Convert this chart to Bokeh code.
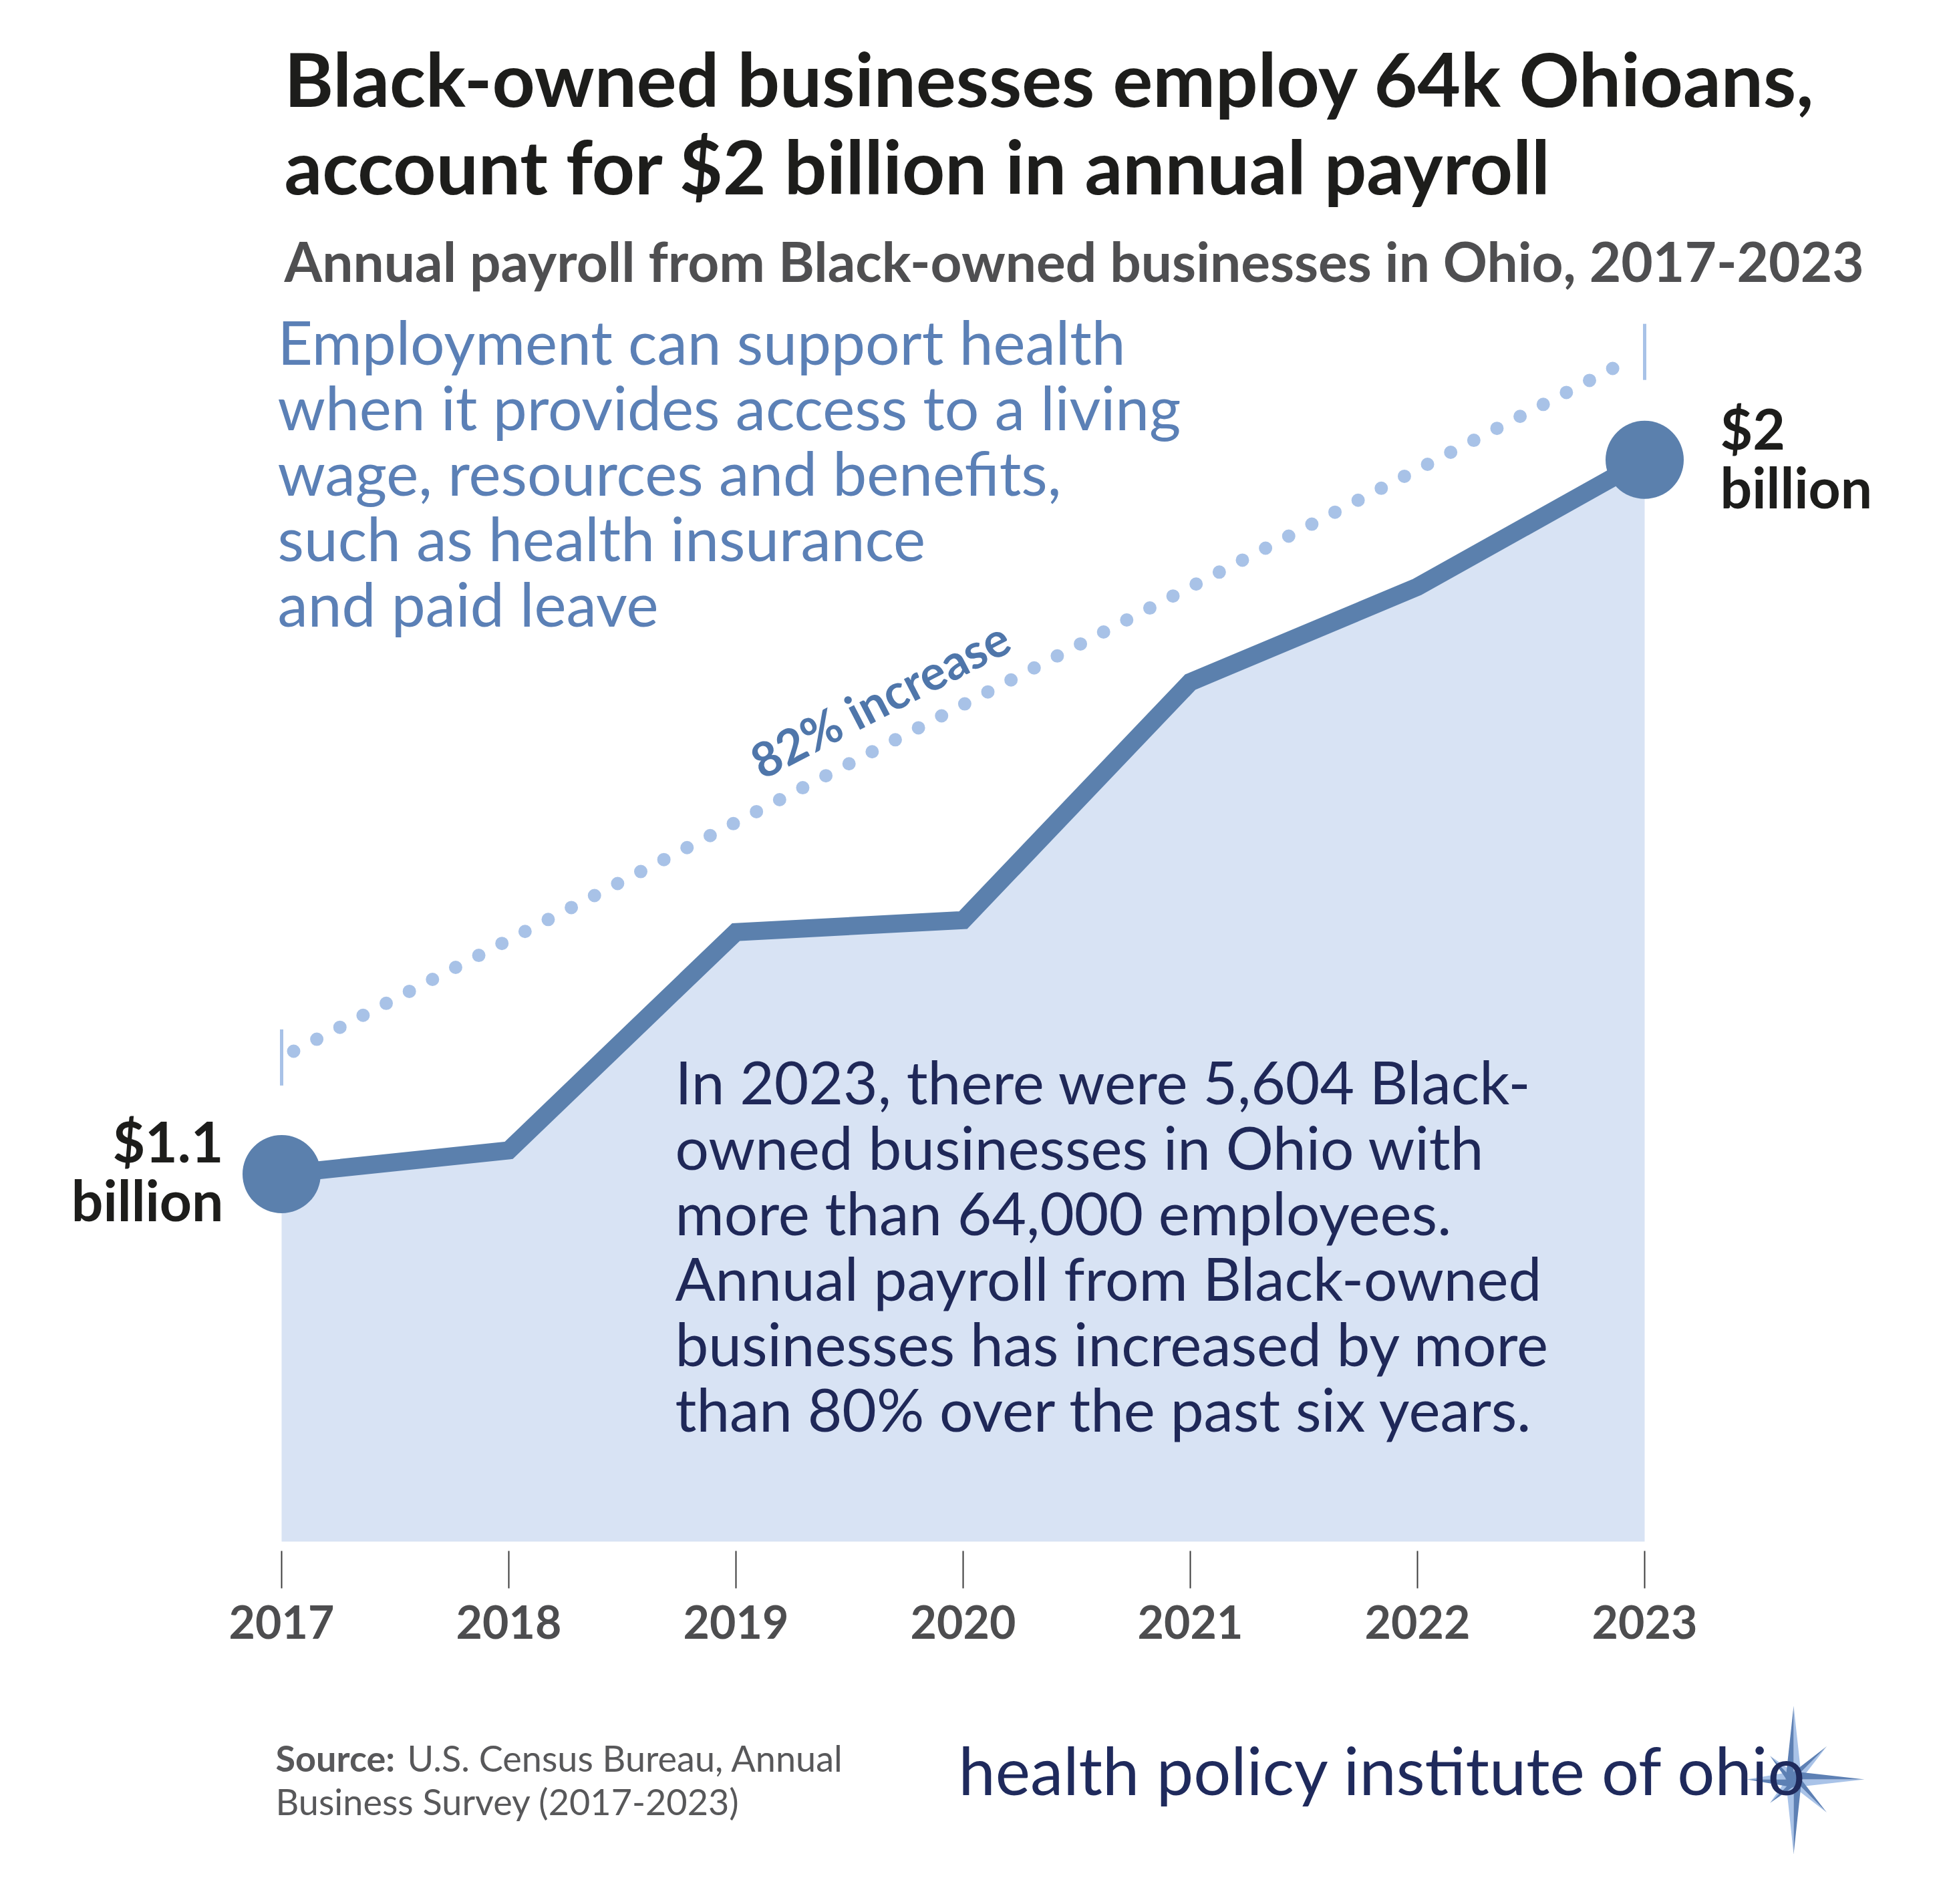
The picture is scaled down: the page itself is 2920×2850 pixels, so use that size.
from bokeh.plotting import figure
from bokeh.models import Range1d, Label, FixedTicker
from bokeh.embed import file_html
from bokeh.resources import INLINE
import math

# Annual payroll from Black-owned businesses in Ohio, $ billions
years = [2017, 2018, 2019, 2020, 2021, 2022, 2023]
payroll_bn = [1.10, 1.13, 1.405, 1.42, 1.72, 1.84, 2.00]
year_labels = ["2017", "2018", "2019", "2020", "2021", "2022", "2023"]

title_lines = ["Black-owned businesses employ 64k Ohioans,",
               "account for $2 billion in annual payroll"]
subtitle = "Annual payroll from Black-owned businesses in Ohio, 2017-2023"
side_note = ["Employment can support health",
             "when it provides access to a living",
             "wage, resources and benefits,",
             "such as health insurance",
             "and paid leave"]
body_note = ["In 2023, there were 5,604 Black-",
             "owned businesses in Ohio with",
             "more than 64,000 employees.",
             "Annual payroll from Black-owned",
             "businesses has increased by more",
             "than 80% over the past six years."]
start_label = ["$1.1", "billion"]
end_label = ["$2", "billion"]
increase_label = "82% increase"
source_head = "Source:"
source_lines = ["U.S. Census Bureau, Annual", "Business Survey (2017-2023)"]
logo_text = "health policy institute of ohio"

# ---- canvas geometry -------------------------------------------------------
W, H = 2920, 2850
PX_YEAR = 340.0      # horizontal pixels per year
PX_BN = 1188.0       # vertical pixels per billion
X_FIRST = 421.0      # pixel column of the first year
Y_FIRST = 1757.0     # pixel row of the first value

x_start = years[0] - X_FIRST / PX_YEAR
x_end = x_start + W / PX_YEAR
y_end = payroll_bn[0] + Y_FIRST / PX_BN
y_start = y_end - H / PX_BN


def X(px):
    return x_start + px / PX_YEAR


def Y(py):
    return y_end - py / PX_BN


FONT = "Lato"
LINE_BLUE = "#5b80ad"
FILL_BLUE = "#d8e3f4"
DOT_BLUE = "#a8c2e7"

p = figure(width=W, height=H, x_range=Range1d(x_start, x_end),
           y_range=Range1d(y_start, y_end), y_axis_location=None,
           output_backend="svg", toolbar_location=None, min_border=0,
           outline_line_color=None, background_fill_color="white",
           border_fill_color="white")
p.grid.visible = False


def text_line(t, px, baseline_px, size, color, bold=False, align="left"):
    """Place one line of text with its baseline on the given pixel row."""
    p.add_layout(Label(x=X(px), y=Y(baseline_px - 0.39 * size), text=t,
                       text_font=FONT, text_font_style="bold" if bold else "normal",
                       text_font_size=f"{size}px", text_color=color,
                       text_align=align, text_baseline="alphabetic"))


# ---- x axis drawn just under the shaded area ------------------------------
floor_bn = Y(2307)           # bottom of the shaded area
xa = p.xaxis[0]
xa.fixed_location = Y(2321)
xa.ticker = FixedTicker(ticks=years)
xa.major_label_overrides = {y: s for y, s in zip(years, year_labels)}
xa.axis_line_color = None
xa.minor_tick_line_color = None
xa.major_tick_in = 0
xa.major_tick_out = 56
xa.major_tick_line_color = "#3c3c3c"
xa.major_tick_line_width = 2
xa.major_label_standoff = 25
xa.major_label_text_font = FONT
xa.major_label_text_font_style = "bold"
xa.major_label_text_font_size = "68px"
xa.major_label_text_color = "#4d4d4f"

# ---- shaded area, line and end markers -------------------------------------
p.varea(x=years, y1=[floor_bn] * len(years), y2=payroll_bn, fill_color=FILL_BLUE)
p.line(x=years, y=payroll_bn, line_width=27, line_color=LINE_BLUE, line_join="miter")
p.scatter(x=[years[0], years[-1]], y=[payroll_bn[0], payroll_bn[-1]],
          size=117, fill_color=LINE_BLUE, line_color=None)

# ---- dotted growth guide with end brackets --------------------------------
g0 = payroll_bn[0] + 0.147
g1 = payroll_bn[-1] + 0.136
slope = (g1 - g0) / (years[-1] - years[0])
gx0 = years[0] + 18 / PX_YEAR
gx1 = years[-1] - 21 / PX_YEAR
p.line(x=[gx0, gx1], y=[g0 + slope * (gx0 - years[0]), g0 + slope * (gx1 - years[0])],
       line_width=20, line_color=DOT_BLUE, line_dash="0 39", line_cap="round")
half = 42 / PX_BN
p.segment(x0=[years[0], years[-1]], y0=[g0 - half, g1 - half],
          x1=[years[0], years[-1]], y1=[g0 + half, g1 + half],
          line_width=5, line_color=DOT_BLUE)

angle = math.atan(slope * PX_BN / PX_YEAR)
p.add_layout(Label(x=X(1316), y=Y(1045), text=increase_label, angle=angle,
                   text_font=FONT, text_font_style="bold", text_font_size="72px",
                   text_color="#4f76aa", text_align="center", text_baseline="middle"))

# ---- value labels at the ends ---------------------------------------------
for i, t in enumerate(start_label):
    text_line(t, 334, 1740 + i * 88, 84, "#1d1d1b", bold=True, align="right")
for i, t in enumerate(end_label):
    text_line(t, 2574, 673 + i * 88, 84, "#1d1d1b", bold=True)

# ---- headline and subtitle -------------------------------------------------
for i, t in enumerate(title_lines):
    text_line(t, 425, 160 + i * 131, 112, "#1d1d1b", bold=True)
text_line(subtitle, 425, 421, 82, "#4f4f51", bold=True)

# ---- annotations -----------------------------------------------------------
for i, t in enumerate(side_note):
    text_line(t, 415, 545 + i * 98, 91, "#5b80b6")
for i, t in enumerate(body_note):
    text_line(t, 1010, 1653 + i * 98, 89, "#1f2858")

# ---- source note -----------------------------------------------------------
text_line(source_head, 412, 2652, 54, "#58585a", bold=True)
text_line(source_lines[0], 609, 2652, 54, "#58585a")
text_line(source_lines[1], 412, 2717, 54, "#58585a")

# ---- logo: compass star behind the wordmark --------------------------------
cx, cy = 2684.0, 2663.0
spikes = [(-90, 110), (90, 112), (0, 106), (180, 70), (-45, 70), (45, 70),
          (-135, 50), (135, 50)]
light_xs, light_ys, dark_xs, dark_ys = [], [], [], []
for deg, length in spikes:
    a = math.radians(deg)
    w = 12 if abs(deg) in (90, 0, 180) else 9
    tx, ty = cx + length * math.cos(a), cy + length * math.sin(a)
    nx, ny = -math.sin(a) * w, math.cos(a) * w
    light_xs.append([X(cx), X(tx), X(cx + nx)])
    light_ys.append([Y(cy), Y(ty), Y(cy + ny)])
    dark_xs.append([X(cx), X(tx), X(cx - nx)])
    dark_ys.append([Y(cy), Y(ty), Y(cy - ny)])
p.patches(xs=light_xs, ys=light_ys, fill_color="#a9c3e8", line_color=None)
p.patches(xs=dark_xs, ys=dark_ys, fill_color="#5d80b4", line_color=None)

text_line(logo_text, 1434, 2687, 99, "#1f2a5c")

open("out.html", "w").write(file_html(p, INLINE))
